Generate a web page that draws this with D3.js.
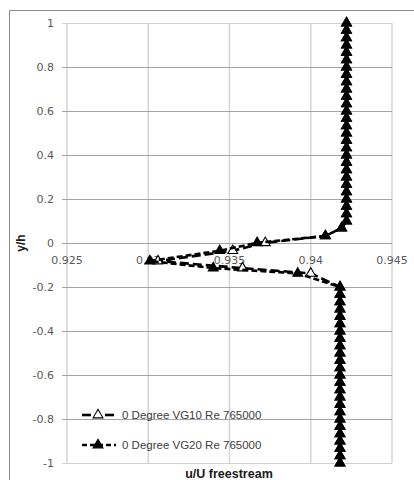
<!DOCTYPE html>
<html>
<head>
<meta charset="utf-8">
<script src="https://cdn.jsdelivr.net/npm/d3@7"></script>
<style>
  html, body { margin: 0; padding: 0; background: #fff; }
  svg { display: block; }
</style>
</head>
<body>
<div id="chart"></div>
<script>
// y/h positions of the traverse (shared by both runs)
const yh = [
  1, 0.967, 0.933, 0.9, 0.867, 0.833, 0.8, 0.767, 0.733, 0.7,
  0.667, 0.633, 0.6, 0.567, 0.533, 0.5, 0.467, 0.433, 0.4, 0.367,
  0.333, 0.3, 0.267, 0.233, 0.2, 0.167, 0.133, 0.1,
  0.068, 0.032, 0.001, -0.035, -0.082, -0.114, -0.138,
  -0.2, -0.233, -0.267, -0.3, -0.333, -0.367, -0.4, -0.433, -0.467, -0.5,
  -0.533, -0.567, -0.6, -0.633, -0.667, -0.7, -0.733, -0.767, -0.8, -0.833,
  -0.867, -0.9, -0.933, -0.967, -1
];

// u/U freestream, 0 Degree VG10 Re 765000 (open triangles)
const vg10 = [
  0.9422, 0.9422, 0.9422, 0.9422, 0.9422, 0.9422, 0.9422, 0.9422, 0.9422, 0.9422,
  0.9422, 0.9422, 0.9422, 0.9422, 0.9422, 0.9422, 0.9422, 0.9422, 0.9422, 0.9422,
  0.9422, 0.9422, 0.9422, 0.9422, 0.9422, 0.9422, 0.9422, 0.9422,
  0.9419, 0.9409, 0.9372, 0.9352, 0.9306, 0.9358, 0.9400,
  0.9418, 0.9418, 0.9418, 0.9418, 0.9418, 0.9418, 0.9418, 0.9418, 0.9418, 0.9418,
  0.9418, 0.9418, 0.9418, 0.9418, 0.9418, 0.9418, 0.9418, 0.9418, 0.9418, 0.9418,
  0.9418, 0.9418, 0.9418, 0.9418, 0.9418
];

// u/U freestream, 0 Degree VG20 Re 765000 (filled triangles)
const vg20 = [
  0.9422, 0.9422, 0.9422, 0.9422, 0.9422, 0.9422, 0.9422, 0.9422, 0.9422, 0.9422,
  0.9422, 0.9422, 0.9422, 0.9422, 0.9422, 0.9422, 0.9422, 0.9422, 0.9422, 0.9422,
  0.9422, 0.9422, 0.9422, 0.9422, 0.9422, 0.9422, 0.9422, 0.9422,
  0.9419, 0.9409, 0.9367, 0.9344, 0.9301, 0.9340, 0.9392,
  0.9418, 0.9418, 0.9418, 0.9418, 0.9418, 0.9418, 0.9418, 0.9418, 0.9418, 0.9418,
  0.9418, 0.9418, 0.9418, 0.9418, 0.9418, 0.9418, 0.9418, 0.9418, 0.9418, 0.9418,
  0.9418, 0.9418, 0.9418, 0.9418, 0.9418
];

const xTicks = [0.925, 0.93, 0.935, 0.94, 0.945];
const xTickLabels = ["0.925", "0.93", "0.935", "0.94", "0.945"];
const yTicks = [-1, -0.8, -0.6, -0.4, -0.2, 0, 0.2, 0.4, 0.6, 0.8, 1];
const yTickLabels = ["-1", "-0.8", "-0.6", "-0.4", "-0.2", "0", "0.2", "0.4", "0.6", "0.8", "1"];
const seriesNames = ["0 Degree VG10 Re 765000", "0 Degree VG20 Re 765000"];

const width = 414, height = 480;
const svg = d3.select("#chart").append("svg")
  .attr("width", width)
  .attr("height", height);

// outer chart frame (only left and top edges fall inside the window)
svg.append("path")
  .attr("d", "M9.5,480 V10.5 H414")
  .attr("fill", "none")
  .attr("stroke", "#8c8c8c")
  .attr("stroke-width", 1);

const x = d3.scaleLinear().domain([0.925, 0.945]).range([67, 392]);
const y = d3.scaleLinear().domain([-1, 1]).range([463, 23]);

// vertical gridlines
svg.append("g").selectAll("line")
  .data(xTicks)
  .join("line")
  .attr("x1", d => x(d)).attr("x2", d => x(d))
  .attr("y1", y(1)).attr("y2", y(-1))
  .attr("stroke", "#d4d4d4")
  .attr("stroke-width", 1.5);

// horizontal gridlines + tick stubs
svg.append("g").selectAll("line")
  .data(yTicks)
  .join("line")
  .attr("x1", x(0.925) - 5).attr("x2", x(0.945))
  .attr("y1", d => Math.round(y(d)) + 0.5).attr("y2", d => Math.round(y(d)) + 0.5)
  .attr("stroke", d => (d === 1 || d === -1) ? "#cfcfcf" : "#a3a3a3")
  .attr("stroke-width", 1);

// y tick labels
svg.append("g").selectAll("text")
  .data(yTicks)
  .join("text")
  .attr("x", 54)
  .attr("y", d => y(d))
  .attr("dy", "0.36em")
  .attr("text-anchor", "end")
  .attr("font-family", "DejaVu Sans")
  .attr("font-size", 11)
  .attr("fill", "#595959")
  .text((d, i) => yTickLabels[i]);

// x tick labels sit just under the y = 0 axis
svg.append("g").selectAll("text")
  .data(xTicks)
  .join("text")
  .attr("x", d => x(d))
  .attr("y", y(0) + 21)
  .attr("text-anchor", "middle")
  .attr("font-family", "DejaVu Sans")
  .attr("font-size", 11)
  .attr("fill", "#595959")
  .text((d, i) => xTickLabels[i]);

// axis titles
svg.append("text")
  .attr("transform", `translate(25,${y(0)}) rotate(-90)`)
  .attr("text-anchor", "middle")
  .attr("font-family", "Liberation Sans")
  .attr("font-weight", "bold")
  .attr("font-size", 12)
  .attr("fill", "#1a1a1a")
  .text("y/h");

svg.append("text")
  .attr("x", 229)
  .attr("y", 478)
  .attr("text-anchor", "middle")
  .attr("font-family", "Liberation Sans")
  .attr("font-weight", "bold")
  .attr("font-size", 12.5)
  .attr("fill", "#1a1a1a")
  .text("u/U freestream");

// series
const series = [
  { name: seriesNames[0], xs: vg10, dash: "9,4", fill: "#fff" },
  { name: seriesNames[1], xs: vg20, dash: "6,3", fill: "#000" }
];

const line = d3.line()
  .x(d => x(d[0]))
  .y(d => y(d[1]));

const tri = d3.symbol().type(d3.symbolTriangle).size(42);

series.forEach(s => {
  const pts = s.xs.map((v, i) => [v, yh[i]]);
  svg.append("path")
    .datum(pts)
    .attr("d", line)
    .attr("fill", "none")
    .attr("stroke", "#000")
    .attr("stroke-width", 2.6)
    .attr("stroke-dasharray", s.dash);

  svg.append("g").selectAll("path")
    .data(pts)
    .join("path")
    .attr("transform", d => `translate(${x(d[0])},${y(d[1])})`)
    .attr("d", tri)
    .attr("fill", s.fill)
    .attr("stroke", "#000")
    .attr("stroke-width", 1.1);
});

// legend
const legend = svg.append("g");
series.forEach((s, i) => {
  const ly = 415 + i * 30;
  if (i === 0) {
    // long dash on each side of the open marker
    [[82, 91], [105, 114]].forEach(seg => {
      legend.append("line")
        .attr("x1", seg[0]).attr("x2", seg[1])
        .attr("y1", ly).attr("y2", ly)
        .attr("stroke", "#000")
        .attr("stroke-width", 2.6);
    });
  } else {
    legend.append("line")
      .attr("x1", 82).attr("x2", 116)
      .attr("y1", ly).attr("y2", ly)
      .attr("stroke", "#000")
      .attr("stroke-width", 2.6)
      .attr("stroke-dasharray", "5,3");
  }
  legend.append("path")
    .attr("transform", `translate(98,${ly})`)
    .attr("d", tri)
    .attr("fill", s.fill)
    .attr("stroke", "#000")
    .attr("stroke-width", 1.1);
  legend.append("text")
    .attr("x", 122)
    .attr("y", ly)
    .attr("dy", "0.35em")
    .attr("font-family", "Liberation Sans")
    .attr("font-size", 11.5)
    .attr("fill", "#404040")
    .text(s.name);
});
</script>
</body>
</html>
